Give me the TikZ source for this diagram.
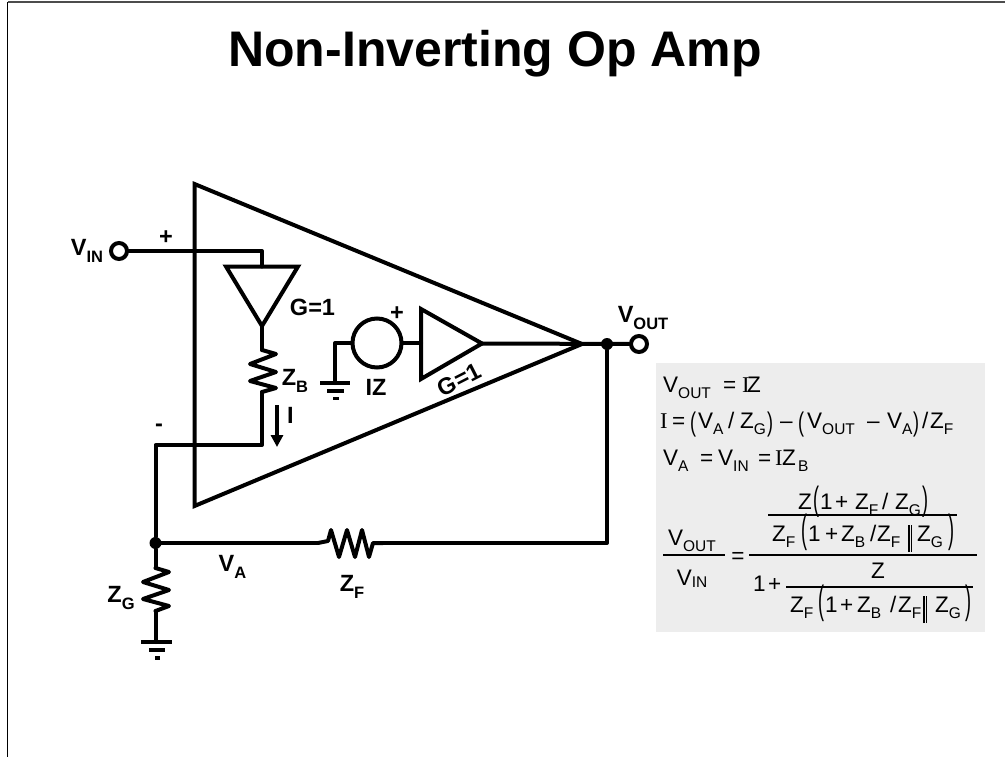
\documentclass[tikz,border=0pt]{standalone}
\usepackage{fontspec}
\setmainfont{Liberation Sans}
\newfontfamily\serifI{Liberation Serif}
\usetikzlibrary{arrows.meta}
\newcommand{\FS}[1]{\fontsize{#1bp}{#1bp}\selectfont}
\newcommand{\lab}[2]{\FS{23.5}\bfseries #1\raisebox{-7.5bp}{\FS{16.5}\bfseries #2}}
\newcommand{\eq}[2]{#1\raisebox{-6bp}{\FS{15.5}#2}}
% tab stop: a piece in a box of fixed width
\newcommand{\tb}[2]{\makebox[#1bp][l]{#2}}
\newcommand{\pL}[2]{\raisebox{#2bp}{\scalebox{0.8}[#1]{(}}}
\newcommand{\pR}[2]{\raisebox{#2bp}{\scalebox{0.8}[#1]{)}}}
\newcommand{\eI}{{\serifI I}}
\newcommand{\parl}{\rule[-11bp]{1.3bp}{27bp}\hspace{1.6bp}\rule[-11bp]{1.3bp}{27bp}}
\tikzset{
  x=1bp,y=-1bp,
  wire/.style={line width=4bp,line join=round,line cap=round},
  tri/.style={line width=4bp,line join=miter,miter limit=10},
  zig/.style={line width=4bp,line join=round,line cap=round},
  gbar/.style={line width=3.5bp},
  term/.style={circle,draw,line width=4bp,fill=white,minimum size=16bp,inner sep=0pt},
  dotn/.style={circle,fill=black,minimum size=12bp,inner sep=0pt},
  src/.style={circle,draw,line width=4bp,minimum size=49bp,inner sep=0pt},
  lbl/.style={inner sep=0pt,anchor=base,text=black},
  eqn/.style={inner sep=0pt,anchor=base west,text=black,font=\FS{22.5}},
  eqc/.style={inner sep=0pt,anchor=base,text=black,font=\FS{22.5}},
  rulee/.style={line width=1.3bp,black},
  frameline/.style={line width=1.3bp,black!70},
  frameleft/.style={line width=1.3bp,black}
}
\begin{document}
\begin{tikzpicture}
\useasboundingbox (0,0) rectangle (1005,757);
% frame
\coordinate (fa) at (7.5,2); \coordinate (fb) at (7.5,757); \coordinate (fc) at (1005,2);
\draw[frameleft] (fb) -- (fa);
\draw[frameline] (fa) -- (fc);
% title
\node[lbl] (title) at (495,67) {\FS{50}\bfseries Non-Inverting Op Amp};
% coordinates
\coordinate (tA) at (194.5,184); \coordinate (tB) at (582,344); \coordinate (tC) at (194.5,506);
\node[dotn] (jo) at (607,344) {};
\node[dotn] (ja) at (155.5,543) {};
\node[src] (iz) at (377,343) {};
\coordinate (inc) at (262,251); \coordinate (b1) at (226,266.5); \coordinate (b2) at (298,266.5); \coordinate (bt) at (262,326); \coordinate (bm) at (262,266.5);
\coordinate (s1) at (421,309); \coordinate (s2) at (421,379); \coordinate (st) at (482,343.5);
% amp triangles
\draw[tri] (tA) -- (tB) -- (tC) -- cycle;
\draw[tri] (b1) -- (b2) -- (bt) -- cycle;
\draw[tri] (s1) -- (st) -- (s2) -- cycle;
% wires
\node[term] (vin) at (119,251) {};
\node[term] (vout) at (639,344) {};
\draw[wire] (vin) -- (inc) -- (bm);
\draw[wire] (st) -- (vout);
\draw[wire] (iz) -- (s1 |- iz);
% ZB
\coordinate (zbe) at (262,445); \coordinate (fbk) at (155.5,445);
\draw[wire] (bt) -- (262,350);
\draw[zig] (262,350) -- (276,354) -- (250,364) -- (276,372) -- (250,381) -- (276,388) -- (262,392);
\draw[wire] (262,392) -- (zbe) -- (fbk) -- (ja);
% arrow I
\coordinate (ar1) at (277,405); \coordinate (ar2) at (277,447);
\draw[line width=4bp,-{Triangle[length=12bp,width=12bp]}] (ar1) -- (ar2);
% IZ ground
\coordinate (g1) at (335,343); \coordinate (g2) at (335,383);
\draw[wire] (iz) -- (g1) -- (g2);
\draw[gbar] (320,383) -- (350,383);
\draw[gbar] (327,391) -- (344,391);
\draw[gbar] (333,398.5) -- (339,398.5);
% ZG
\draw[wire] (ja) -- (155.5,568);
\draw[zig] (155.5,568) -- (169,572) -- (143,582) -- (169,590) -- (143,599) -- (169,606) -- (155.5,611);
\draw[wire] (155.5,611) -- (155.5,642);
\draw[gbar] (141,642) -- (172,642);
\draw[gbar] (149,650) -- (165,650);
\draw[gbar] (155,658) -- (160,658);
% ZF
\coordinate (fr) at (607,543);
\draw[wire] (ja) -- (318,543);
\draw[zig] (318,543) -- (328,541) -- (331,530) -- (339,557) -- (347,530) -- (355,557) -- (362,530) -- (369,557) -- (373,543) -- (383,543);
\draw[wire] (383,543) -- (fr) -- (jo);
% labels
\node[lbl] (lvin) at (87,255) {\lab{V}{IN}};
\node[lbl] (lplus) at (166,244) {\FS{23.5}\bfseries +};
\node[lbl] (lminus) at (159,431) {\FS{23.5}\bfseries -};
\node[lbl] (lg1) at (312.5,315) {\FS{23.5}\bfseries G=1};
\node[lbl] (lzb) at (295,385) {\lab{Z}{B}};
\node[lbl] (lI) at (290.5,423) {\FS{23.5}\bfseries I};
\node[lbl] (lp2) at (397,320) {\FS{23.5}\bfseries +};
\node[lbl] (liz) at (376,395) {\FS{23.5}\bfseries IZ};
\node[lbl,rotate=27] (lg2) at (463,387) {\FS{23.5}\bfseries G=1};
\node[lbl] (lvout) at (643,322) {\lab{V}{OUT}};
\node[lbl] (lva) at (232.5,571) {\lab{V}{A}};
\node[lbl] (lzf) at (352,591) {\lab{Z}{F}};
\node[lbl] (lzg) at (121,602) {\lab{Z}{G}};
% equation box
\fill[black!7] (656,363) rectangle (985,632);
\node[eqn] (e1) at (663,392) {\tb{60}{\eq{V}{OUT}}\tb{19}{=}\tb{5}{\eI}Z};
\node[eqn] (e2) at (660,428) {\tb{12}{\eI}\tb{18}{=}\tb{8}{\pL{1.2}{-3.2}}\tb{30}{\eq{V}{A}}\tb{12}{/}\tb{27}{\eq{Z}{G}}\tb{13}{\pR{1.2}{-3.2}}\tb{18}{–}\tb{9}{\pL{1.2}{-3.2}}\tb{60}{\eq{V}{OUT}}\tb{20}{–}\tb{26}{\eq{V}{A}}\tb{9}{\pR{1.2}{-3.2}}\tb{8}{/}\eq{Z}{F}};
\node[eqn] (e3) at (663,465) {\tb{37}{\eq{V}{A}}\tb{18}{=}\tb{40}{\eq{V}{IN}}\tb{17}{=}\tb{7}{\eI}\tb{16}{Z}\raisebox{-6bp}{\FS{15.5}B}};
\node[eqn] (n1) at (798,509) {\tb{15}{Z}\tb{7}{\pL{1.5}{-1}}\tb{15}{1}\tb{20}{+}\tb{27}{\eq{Z}{F}}\tb{13}{/}\tb{27}{\eq{Z}{G}}\pR{1.5}{-1}};
\node[eqn] (d1) at (772,541) {\tb{29}{\eq{Z}{F}}\tb{7}{\pL{1.75}{-1.5}}\tb{17}{1}\tb{16}{+}\tb{29}{\eq{Z}{B}}\tb{7}{/}\tb{31}{\eq{Z}{F}}\tb{9}{\parl}\tb{31}{\eq{Z}{G}}\pR{1.75}{-1.5}};
\node[eqc] (z1) at (878,578) {Z};
\node[eqn] (one) at (753,591) {\tb{15}{1}+};
\node[eqn] (d2) at (790,612) {\tb{28}{\eq{Z}{F}}\tb{7}{\pL{1.75}{-1.5}}\tb{15}{1}\tb{17}{+}\tb{33}{\eq{Z}{B}}\tb{8}{/}\tb{25}{\eq{Z}{F}}\tb{12}{\parl}\tb{30}{\eq{Z}{G}}\pR{1.75}{-1.5}};
\node[eqc] (vo) at (692,545) {\eq{V}{OUT}};
\node[eqc] (vi) at (692,585) {V\raisebox{-2.5bp}{\FS{15.5}IN}};
\node[eqc] (eqs) at (738,563) {=};
\coordinate (r1a) at (768,515); \coordinate (r1b) at (957,515);
\coordinate (r2a) at (749,555); \coordinate (r2b) at (977,555);
\coordinate (r3a) at (786,587); \coordinate (r3b) at (973,587);
\coordinate (r4a) at (663,555); \coordinate (r4b) at (725,555);
\draw[rulee] (r1a) -- (r1b);
\draw[rulee] (r2a) -- (r2b);
\draw[rulee] (r3a) -- (r3b);
\draw[rulee] (r4a) -- (r4b);
\end{tikzpicture}
\end{document}
